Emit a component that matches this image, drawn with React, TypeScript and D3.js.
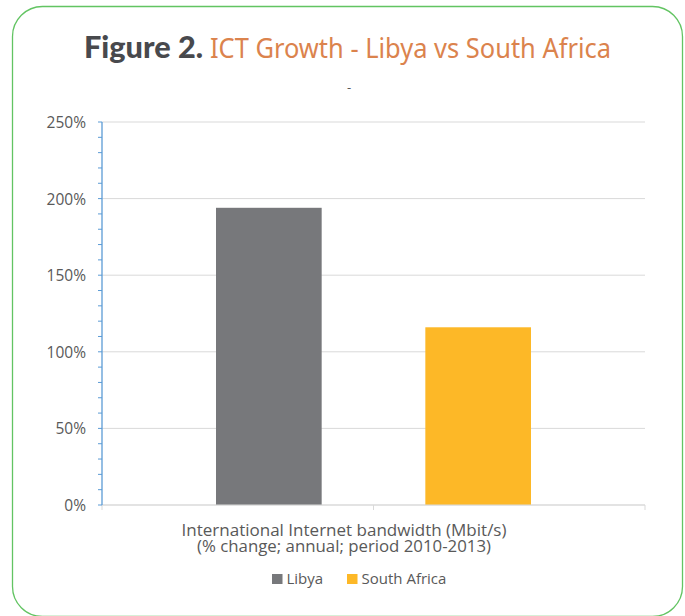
import React from "react";
import * as d3 from "d3";

const categories = ["International Internet bandwidth (Mbit/s)"];
const categoryLines = ["International Internet bandwidth (Mbit/s)", "(% change; annual; period 2010-2013)"];
const seriesNames = ["Libya", "South Africa"];
const seriesValues = [194, 116];
const seriesColors = ["#77787B", "#FDB827"];
const yTicks = [0, 50, 100, 150, 200, 250];

export default function App() {
  const W = 685, H = 616;
  const x0 = 102, x1 = 645, yTop = 122, yBot = 505;
  const y = d3.scaleLinear().domain([0, 250]).range([yBot, yTop]);
  const xCat = d3.scaleBand().domain(categories).range([x0, x1]).paddingInner(0).paddingOuter(0);
  const catW = xCat.bandwidth();
  const groupW = 314;
  const xSer = d3.scaleBand().domain(seriesNames).range([0, groupW]).paddingInner(0.5).paddingOuter(0);
  const groupStart = (xCat(categories[0]) as number) + (catW - groupW) / 2;
  const minor = d3.range(0, 251, 10);
  const font = "'Open Sans', sans-serif";
  const lineLens = [325, 294];
  return (
    <svg width={W} height={H} style={{ position: "absolute", left: 0, top: 0 }}>
      <rect x={0} y={0} width={W} height={H} fill="#fff" />
      <rect x={12.5} y={6.5} width={670} height={610} rx={30} ry={30} fill="none" stroke="#62C462" strokeWidth={1.3} />
      <text x={84} y={58} fontSize={30.5} fill="#48494D" fontFamily="Lato, sans-serif" fontWeight={900}
        textLength={119} lengthAdjust="spacingAndGlyphs">Figure 2.</text>
      <text x={210} y={58} fontSize={28} fill="#DB834D" fontFamily="'Noto Sans', sans-serif" fontWeight={400}
        textLength={401} lengthAdjust="spacingAndGlyphs">ICT Growth - Libya vs South Africa</text>
      <text x={349} y={92} textAnchor="middle" fontSize={13} fill="#595959" fontFamily={font}>-</text>
      {yTicks.map((t) => (
        <line key={"g" + t} x1={x0} x2={x1} y1={y(t)} y2={y(t)} stroke="#D9D9D9" strokeWidth={1} />
      ))}
      {seriesNames.map((s, i) => (
        <rect key={s} x={groupStart + (xSer(s) as number) - 0.5} y={y(seriesValues[i])}
          width={xSer.bandwidth() + 1} height={yBot - y(seriesValues[i])} fill={seriesColors[i]} />
      ))}
      <line x1={x0} x2={x1} y1={yBot} y2={yBot} stroke="#D9D9D9" strokeWidth={1.2} />
      {[x0, x0 + catW / 2, x1].map((xx, i) => (
        <line key={"xt" + i} x1={xx} x2={xx} y1={yBot} y2={yBot + 5} stroke="#D9D9D9" strokeWidth={1} />
      ))}
      <line x1={x0} x2={x0} y1={yTop} y2={yBot} stroke="#5B9BD5" strokeWidth={1.3} />
      {minor.map((t) => (
        <line key={"m" + t} x1={x0 - 4} x2={x0} y1={y(t)} y2={y(t)} stroke="#5B9BD5" strokeWidth={1} />
      ))}
      {yTicks.map((t) => (
        <text key={"l" + t} x={86} y={y(t) + 6} textAnchor="end" fontSize={15.5} fill="#595959" fontFamily={font}>
          {d3.format(".0%")(t / 100)}
        </text>
      ))}
      {categoryLines.map((l, i) => (
        <text key={"c" + i} x={344} y={536 + i * 16} textAnchor="middle" fontSize={17} fill="#595959" fontFamily={font}
          textLength={lineLens[i]} lengthAdjust="spacingAndGlyphs">
          {l}
        </text>
      ))}
      {seriesNames.map((s, i) => {
        const lx = [272, 347][i];
        return (
          <g key={"lg" + s}>
            <rect x={lx} y={574} width={10.5} height={10} fill={seriesColors[i]} />
            <text x={lx + 14.5} y={583.5} fontSize={15} fill="#595959" fontFamily={font}>{s}</text>
          </g>
        );
      })}
    </svg>
  );
}
